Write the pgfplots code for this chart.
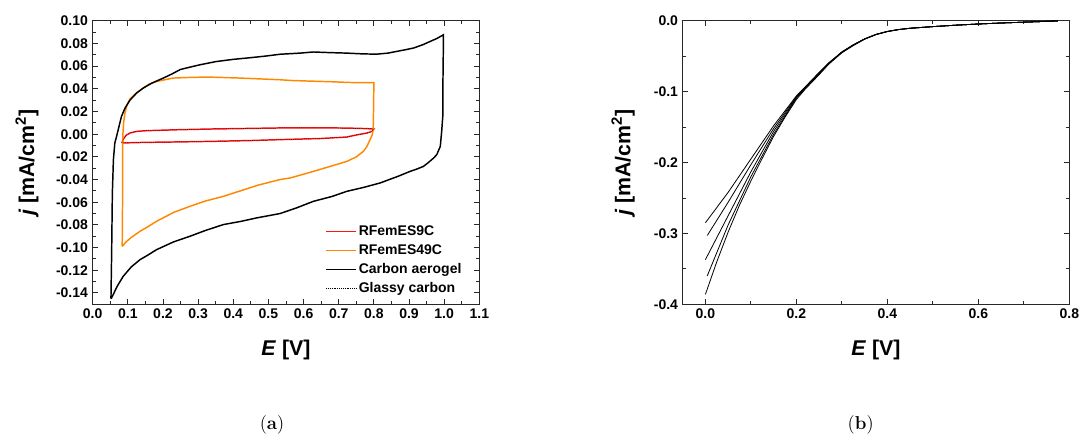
\documentclass[border=0pt]{standalone}
\usepackage{fontspec}
\usepackage{pgfplots}
\pgfplotsset{compat=1.18}
\newfontfamily\arial{Liberation Sans}
\definecolor{cvred}{RGB}{255,20,20}
\definecolor{cvorange}{RGB}{255,136,0}
\definecolor{axgray}{RGB}{40,40,40}

\pgfplotsset{
  panel/.style={
    scale only axis,
    width=290pt, height=212.6pt,
    axis line style={axgray, line width=0.8pt},
    tick style={axgray, line width=0.7pt},
    tick align=inside, tick pos=both,
    xticklabel pos=bottom, yticklabel pos=left,
    major tick length=4pt, minor tick length=2.4pt,
    minor x tick num=1, minor y tick num=1,
    ticklabel style={font=\arial\bfseries\fontsize{10.5}{12}\selectfont},
    /pgf/number format/assume math mode=true,
    xlabel style={font=\arial\bfseries\fontsize{16}{18}\selectfont, at={(axis description cs:0.5,-0.161)}, anchor=center},
    ylabel style={font=\arial\bfseries\fontsize{16}{18}\selectfont, anchor=center},
    xlabel={\textit{E} [V]},
    ylabel={\textit{j} [mA/cm\textsuperscript{2}]},
    clip=true,
  },
  lsv/.style={black, no markers, line width=0.6pt},
}

\begin{document}
\begin{tikzpicture}
\useasboundingbox (0,0) rectangle (810.75pt,327pt);

% ---------- (a) cyclic voltammograms
\begin{axis}[panel,
  at={(69.5pt,98.8pt)}, anchor=south west,
  xmin=0, xmax=1.1, ymin=-0.15, ymax=0.10,
  xtick={0,0.1,...,1.1}, ytick={-0.14,-0.12,...,0.1},
  xticklabel style={/pgf/number format/.cd, fixed, fixed zerofill, precision=1},
  yticklabel style={/pgf/number format/.cd, fixed, fixed zerofill, precision=2},
  ylabel style={at={(axis description cs:-0.170,0.5)}},
  legend cell align=left,
  legend image code/.code={\draw[#1] (0pt,0pt) -- (22.5pt,0pt);},
  legend style={draw=none, fill=none, at={(0.601,0.289)}, anchor=north west,
    font=\arial\bfseries\fontsize{10.5}{12}\selectfont,
    inner sep=0pt, row sep=1.05pt,
    nodes={inner sep=1.5pt, text height=8pt, text depth=2.2pt}},
]
% RFemES9C
\addplot[cvred, line width=1.1pt] coordinates {
(0.083,-0.0078)(0.087,-0.0045)(0.095,-0.0010)(0.106,0.0010)(0.125,0.0025)
(0.154,0.0031)(0.250,0.0040)(0.343,0.0046)(0.450,0.0051)(0.533,0.0055)
(0.650,0.0056)(0.723,0.0054)(0.770,0.0050)(0.800,0.0046)(0.795,0.0025)
(0.780,0.0010)(0.750,-0.0007)(0.723,-0.0025)(0.650,-0.0038)(0.533,-0.0048)
(0.450,-0.0056)(0.343,-0.0063)(0.250,-0.0068)(0.154,-0.0072)(0.100,-0.0076)
(0.083,-0.0078)
};
\addlegendentry{RFemES9C}
% RFemES49C
\addplot[cvorange, line width=1.1pt] coordinates {
(0.084,-0.099)(0.085,-0.060)(0.085,-0.020)(0.086,0.000)(0.088,0.010)
(0.092,0.019)(0.098,0.026)(0.106,0.031)(0.125,0.0365)(0.144,0.0407)
(0.160,0.044)(0.182,0.0465)(0.205,0.048)(0.229,0.0495)(0.270,0.0500)
(0.325,0.0504)(0.370,0.0500)(0.419,0.0495)(0.480,0.0487)(0.533,0.0480)
(0.562,0.0474)(0.620,0.0468)(0.675,0.0463)(0.740,0.0455)(0.800,0.0455)
(0.799,0.020)(0.798,0.004)(0.795,-0.001)(0.789,-0.0048)(0.780,-0.011)
(0.770,-0.0152)(0.750,-0.020)(0.723,-0.024)(0.680,-0.028)(0.628,-0.0328)
(0.562,-0.0386)(0.533,-0.040)(0.470,-0.045)(0.420,-0.050)(0.372,-0.0548)
(0.320,-0.059)(0.277,-0.0636)(0.230,-0.069)(0.182,-0.0768)(0.155,-0.082)
(0.135,-0.0856)(0.110,-0.091)(0.095,-0.095)(0.084,-0.099)
};
\addlegendentry{RFemES49C}
% Carbon aerogel
\addplot[black, line width=1.1pt] coordinates {
(0.052,-0.145)(0.053,-0.125)(0.054,-0.105)(0.056,-0.052)(0.059,-0.0225)
(0.063,-0.0078)(0.068,-0.002)(0.075,0.0069)(0.082,0.0157)(0.092,0.023)
(0.106,0.030)(0.125,0.0363)(0.144,0.0407)(0.168,0.045)(0.201,0.0495)
(0.225,0.053)(0.249,0.057)(0.275,0.059)(0.305,0.0612)
(0.350,0.064)(0.400,0.066)(0.450,0.0675)(0.495,0.069)(0.533,0.0705)
(0.590,0.0715)(0.628,0.0725)(0.670,0.0720)(0.723,0.0715)(0.770,0.0708)
(0.808,0.0706)(0.840,0.0715)(0.865,0.0730)(0.890,0.0745)(0.913,0.0760)
(0.940,0.0790)(0.960,0.0818)(0.980,0.0845)(0.998,0.0877)(0.997,0.060)
(0.996,0.035)(0.996,0.0157)(0.993,0.003)(0.989,-0.0107)(0.979,-0.018)
(0.970,-0.021)(0.955,-0.025)(0.941,-0.0284)(0.920,-0.031)(0.903,-0.0328)
(0.870,-0.037)(0.818,-0.043)(0.770,-0.047)(0.723,-0.0504)(0.680,-0.055)
(0.628,-0.0592)(0.580,-0.065)(0.533,-0.0700)(0.467,-0.0738)(0.420,-0.077)
(0.372,-0.0797)(0.320,-0.085)(0.277,-0.090)(0.230,-0.095)(0.182,-0.1018)
(0.155,-0.107)(0.135,-0.1106)(0.110,-0.117)(0.087,-0.1253)(0.070,-0.134)
(0.054,-0.1443)(0.052,-0.145)
};
\addlegendentry{Carbon aerogel}
% Glassy carbon
\addplot[black, line width=0.4pt, densely dotted] coordinates {
(0.083,-0.0078)(0.087,-0.0045)(0.095,-0.0010)(0.106,0.0010)(0.125,0.0025)
(0.154,0.0031)(0.250,0.0040)(0.343,0.0046)(0.450,0.0051)(0.533,0.0055)
(0.650,0.0056)(0.723,0.0054)(0.770,0.0050)(0.800,0.0046)(0.795,0.0025)
(0.780,0.0010)(0.750,-0.0007)(0.723,-0.0025)(0.650,-0.0038)(0.533,-0.0048)
(0.450,-0.0056)(0.343,-0.0063)(0.250,-0.0068)(0.154,-0.0072)(0.100,-0.0076)
(0.083,-0.0078)
};
\addlegendentry{Glassy carbon}
\end{axis}

% ---------- (b) linear sweeps
\begin{axis}[panel,
  at={(512pt,98.8pt)}, anchor=south west,
  xmin=-0.05, xmax=0.8, ymin=-0.4, ymax=0,
  xtick={0,0.2,...,0.8}, ytick={-0.4,-0.3,...,0},
  xticklabel style={/pgf/number format/.cd, fixed, fixed zerofill, precision=1},
  yticklabel style={/pgf/number format/.cd, fixed, fixed zerofill, precision=1},
  ylabel style={at={(axis description cs:-0.154,0.5)}},
]
\addplot[lsv] coordinates {
(0.000,-0.285)(0.050,-0.242)(0.100,-0.195)(0.150,-0.148)(0.200,-0.106)
(0.220,-0.093)(0.250,-0.073)(0.270,-0.060)(0.289,-0.050)(0.300,-0.044)
(0.325,-0.034)(0.350,-0.0255)(0.375,-0.0192)(0.400,-0.0150)(0.425,-0.0123)
(0.450,-0.0105)(0.500,-0.0082)(0.550,-0.0062)(0.600,-0.0045)(0.650,-0.0031)
(0.710,-0.0017)(0.750,-0.0008)(0.775,-0.0002)
};
\addplot[lsv] coordinates {
(0.004,-0.303)(0.050,-0.256)(0.100,-0.203)(0.150,-0.152)(0.200,-0.107)
(0.220,-0.093)(0.250,-0.073)(0.270,-0.060)(0.289,-0.050)(0.300,-0.044)
(0.325,-0.034)(0.350,-0.0255)(0.375,-0.0192)(0.400,-0.0150)(0.425,-0.0123)
(0.450,-0.0105)(0.500,-0.0082)(0.550,-0.0062)(0.600,-0.0045)(0.650,-0.0031)
(0.710,-0.0017)(0.750,-0.0008)(0.775,-0.0002)
};
\addplot[lsv] coordinates {
(0.000,-0.337)(0.050,-0.275)(0.100,-0.213)(0.150,-0.156)(0.200,-0.108)
(0.220,-0.094)(0.250,-0.074)(0.270,-0.061)(0.289,-0.050)(0.300,-0.044)
(0.325,-0.034)(0.350,-0.0255)(0.375,-0.0192)(0.400,-0.0150)(0.425,-0.0123)
(0.450,-0.0105)(0.500,-0.0082)(0.550,-0.0062)(0.600,-0.0045)(0.650,-0.0031)
(0.710,-0.0017)(0.750,-0.0008)(0.775,-0.0002)
};
\addplot[lsv] coordinates {
(0.004,-0.360)(0.050,-0.288)(0.100,-0.220)(0.150,-0.160)(0.200,-0.109)
(0.220,-0.095)(0.250,-0.075)(0.270,-0.061)(0.289,-0.051)(0.300,-0.045)
(0.325,-0.0345)(0.350,-0.0258)(0.375,-0.0194)(0.400,-0.0151)(0.425,-0.0124)
(0.450,-0.0105)(0.500,-0.0082)(0.550,-0.0062)(0.600,-0.0045)(0.650,-0.0031)
(0.710,-0.0017)(0.750,-0.0008)(0.775,-0.0002)
};
\addplot[lsv] coordinates {
(0.000,-0.386)(0.025,-0.340)(0.050,-0.298)(0.075,-0.260)(0.100,-0.226)
(0.125,-0.194)(0.150,-0.163)(0.175,-0.136)(0.200,-0.111)(0.220,-0.096)
(0.250,-0.076)(0.270,-0.062)(0.289,-0.051)(0.300,-0.045)(0.325,-0.035)
(0.350,-0.0260)(0.375,-0.0195)(0.400,-0.0152)(0.425,-0.0124)(0.450,-0.0106)
(0.500,-0.0082)(0.550,-0.0062)(0.600,-0.0045)(0.650,-0.0031)(0.710,-0.0017)
(0.750,-0.0008)(0.775,-0.0002)
};
\end{axis}

\node[font=\fontsize{14}{16}\selectfont] at (204pt,8.3pt) {(\textbf{a})};
\node[font=\fontsize{14}{16}\selectfont] at (645.5pt,8.3pt) {(\textbf{b})};
\end{tikzpicture}
\end{document}
